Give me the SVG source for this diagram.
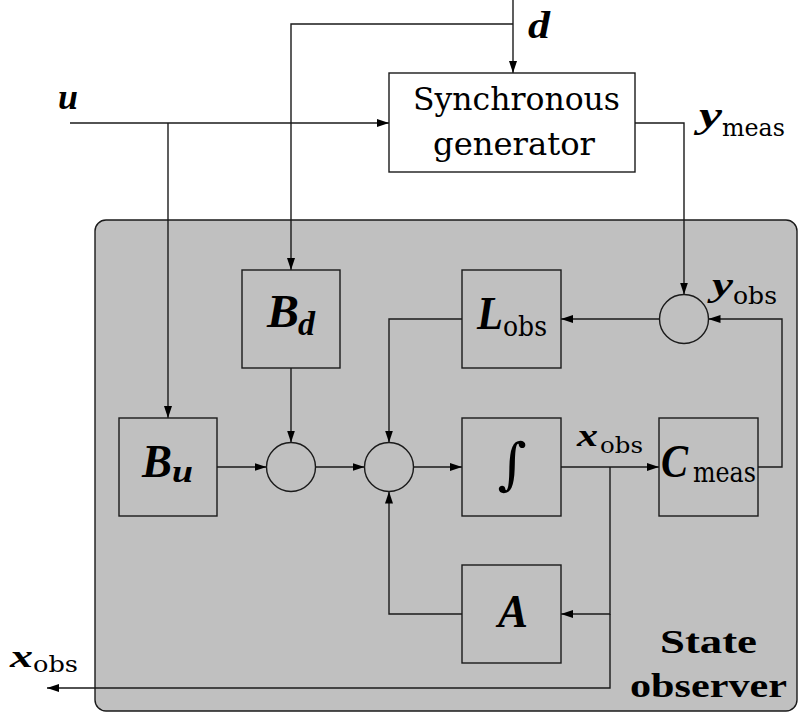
<svg xmlns="http://www.w3.org/2000/svg" width="799" height="715" viewBox="0 0 799 715">
<style>
.ln{fill:none;stroke:#1a1a1a;stroke-width:1.4}
.bx{fill:#c0c0c0;stroke:#1a1a1a;stroke-width:1.4}
.wb{fill:#ffffff;stroke:#1a1a1a;stroke-width:1.4}
.ar{marker-end:url(#ah)}
.m{font-family:"Liberation Serif","DejaVu Serif",serif;font-weight:bold;font-style:italic;fill:#000}
.r{font-family:"DejaVu Serif",serif;font-weight:normal;font-style:normal;fill:#000}
.b{font-family:"Liberation Serif","DejaVu Serif",serif;font-weight:bold;fill:#000}
</style>
<defs>
<marker id="ah" viewBox="0 0 12 8" refX="12" refY="4" markerWidth="12" markerHeight="8" markerUnits="userSpaceOnUse" orient="auto">
<path d="M0,0 L12,4 L0,8 z" fill="#000"/>
</marker>
</defs>
<rect width="799" height="715" fill="#ffffff"/>
<g id="observer">
<rect x="95" y="220" width="702" height="491" rx="11" class="bx"/>
<text class="b" x="660" y="653" font-size="33" textLength="97" lengthAdjust="spacingAndGlyphs">State</text>
<text class="b" x="630" y="697" font-size="33" textLength="157" lengthAdjust="spacingAndGlyphs">observer</text>
</g>
<g id="connectors">
<path class="ln ar" d="M70,123 H389"/>
<path class="ln ar" d="M168,123 V418"/>
<path class="ln ar" d="M513,0 V73"/>
<path class="ln ar" d="M513,24 H291 V270"/>
<path class="ln ar" d="M635,123 H684 V294.5"/>
<path class="ln ar" d="M217,467 H266.5"/>
<path class="ln ar" d="M291,368 V442.5"/>
<path class="ln ar" d="M315.5,467 H364.5"/>
<path class="ln ar" d="M413.5,467 H462"/>
<path class="ln ar" d="M561,467 H659"/>
<path class="ln ar" d="M758,467 H782 V319 H708.5"/>
<path class="ln ar" d="M659.5,319 H561"/>
<path class="ln ar" d="M462,319 H389 V442.5"/>
<path class="ln ar" d="M610,467 V614 H561"/>
<path class="ln ar" d="M462,614 H389 V491.5"/>
<path class="ln ar" d="M610,614 V688 H47"/>
</g>
<g id="generator">
<rect x="389" y="73" width="246" height="99" class="wb"/>
<text class="r" x="413" y="110" font-size="31" textLength="207" lengthAdjust="spacingAndGlyphs">Synchronous</text>
<text class="r" x="433" y="155" font-size="31" textLength="162" lengthAdjust="spacingAndGlyphs">generator</text>
</g>
<g id="Bd">
<rect x="242" y="270" width="98" height="98" class="bx"/>
<text class="m" x="267" y="327" font-size="46" textLength="32" lengthAdjust="spacingAndGlyphs">B</text>
<text class="m" x="298" y="335" font-size="34" textLength="17" lengthAdjust="spacingAndGlyphs">d</text>
</g>
<g id="Bu">
<rect x="119" y="418" width="98" height="98" class="bx"/>
<text class="m" x="142" y="477" font-size="46" textLength="30" lengthAdjust="spacingAndGlyphs">B</text>
<text class="m" x="172" y="482" font-size="32" textLength="21" lengthAdjust="spacingAndGlyphs">u</text>
</g>
<g id="sum1"><circle cx="291" cy="467" r="24.5" class="bx"/></g>
<g id="sum2"><circle cx="389" cy="467" r="24.5" class="bx"/></g>
<g id="sum3"><circle cx="684" cy="319" r="24.5" class="bx"/></g>
<g id="Lobs">
<rect x="462" y="270" width="99" height="98" class="bx"/>
<text class="m" x="477" y="329" font-size="46" textLength="26" lengthAdjust="spacingAndGlyphs">L</text>
<text class="r" x="503" y="336" font-size="28" textLength="44" lengthAdjust="spacingAndGlyphs">obs</text>
</g>
<g id="integrator">
<rect x="462" y="418" width="99" height="98" class="bx"/>
<text class="r" x="512" y="483" font-size="56" text-anchor="middle">∫</text>
</g>
<g id="Cmeas">
<rect x="659" y="418" width="99" height="98" class="bx"/>
<text class="m" x="661" y="477" font-size="46" textLength="27" lengthAdjust="spacingAndGlyphs">C</text>
<text class="r" x="693" y="482" font-size="28" textLength="63" lengthAdjust="spacingAndGlyphs">meas</text>
</g>
<g id="A">
<rect x="462" y="565" width="99" height="98" class="bx"/>
<text class="m" x="498" y="627" font-size="46" textLength="30" lengthAdjust="spacingAndGlyphs">A</text>
</g>
<g id="labels">
<text class="m" x="58" y="109" font-size="36" textLength="20" lengthAdjust="spacingAndGlyphs">u</text>
<text class="m" x="528" y="38" font-size="38" textLength="22" lengthAdjust="spacingAndGlyphs">d</text>
<text class="m" x="699" y="127" font-size="36" textLength="23" lengthAdjust="spacingAndGlyphs">y</text>
<text class="r" x="722" y="136" font-size="24" textLength="63" lengthAdjust="spacingAndGlyphs">meas</text>
<text class="m" x="712" y="296" font-size="34" textLength="21" lengthAdjust="spacingAndGlyphs">y</text>
<text class="r" x="733" y="304" font-size="24" textLength="44" lengthAdjust="spacingAndGlyphs">obs</text>
<text class="m" x="577" y="446" font-size="32" textLength="21" lengthAdjust="spacingAndGlyphs">x</text>
<text class="r" x="600" y="453" font-size="23" textLength="43" lengthAdjust="spacingAndGlyphs">obs</text>
<text class="m" x="10" y="667" font-size="32" textLength="23" lengthAdjust="spacingAndGlyphs">x</text>
<text class="r" x="33" y="672" font-size="23" textLength="45" lengthAdjust="spacingAndGlyphs">obs</text>
</g>
</svg>
